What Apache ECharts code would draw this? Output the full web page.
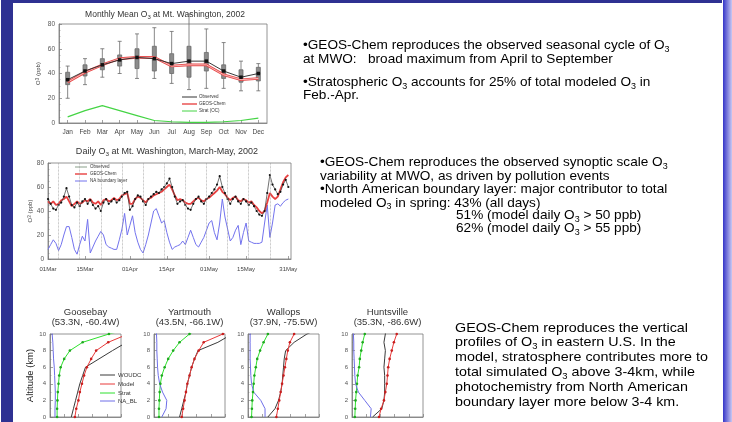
<!DOCTYPE html>
<html><head><meta charset="utf-8">
<script src="https://cdn.jsdelivr.net/npm/echarts@6/dist/echarts.min.js"></script>
<style>html,body{margin:0;padding:0;background:#fff}#c{width:732px;height:422px}</style>
</head><body><div id="c"></div>
<script>
// ---------- Monthly mean chart ----------
const months = ['Jan','Feb','Mar','Apr','May','Jun','Jul','Aug','Sep','Oct','Nov','Dec'];
const monthObs   = [35,42,47,51,53,52,48,50,50,42,37,40];
const monthModel = [33,41,47,52,53,53,46,47,47,39,35,36];
const monthStrat = [5,10,14,10,6,2,1,0.5,0.5,1,2,4];
// [min, q1, median, q3, max]
const monthBox = [
  [20,31,35,41,46],[31,38,42,47,52],[37,43,47,52,60],[40,46,51,55,66],
  [36,44,53,60,72],[36,42,52,62,77],[32,40,48,56,74],[27,37,50,62,88],
  [28,42,50,57,76],[28,36,42,47,65],[26,33,37,43,50],[26,34,40,45,48]
];

// ---------- Daily chart (day 0 = 01 Mar) ----------
const tickDays   = [0,14,31,45,61,75,91];
const tickLabels = ['01Mar','15Mar','01Apr','15Apr','01May','15May','31May'];
const weekDays   = [4,12,20,28,36,44,52,60,68,76,84];
const dailyObs = [50,46,42,41,45,47,52,59,52,45, 43,47,44,48,50,46,49,45,42,44,
  40,47,50,46,48,50,47,49,52,55, 56,41,44,50,53,52,48,45,50,52,
  54,56,55,58,60,63,67,60,52,46, 48,49,45,42,41,46,50,52,48,46,
  50,52,55,58,62,69,60,55,50,46, 50,52,48,46,50,48,45,47,44,40,
  37,36,40,55,70,62,58,54,56,62, 66,60];
const dailyModel = [48,46,48,45,46,49,50,52,48,44, 46,48,46,47,49,48,50,47,46,48,
  45,49,50,48,49,51,49,50,53,54, 55,46,46,50,52,51,49,47,50,51,
  53,54,55,56,58,60,62,58,53,49, 50,49,47,46,46,48,50,51,49,48,
  50,51,53,55,57,60,56,54,51,49, 51,52,49,48,50,49,47,48,45,43,
  40,38,40,47,55,52,50,52,58,64, 68,70];
const dailyNABL = [8,12,16,13,7,12,20,27,27,18, 8,4,12,19,15,33,5,10,15,19,
  23,20,12,10,9,8,8,16,25,38, 20,28,36,22,14,8,5,12,20,30,
  40,42,36,30,32,22,14,8,10,11, 12,15,12,18,24,18,12,10,14,18,
  24,30,32,22,16,30,50,35,25,15, 18,24,28,12,22,30,15,14,13,13,
  13,14,30,45,18,30,45,46,44,47, 49,50];

// ---------- Vertical profiles ----------
const altKm = [0,1,2,3,4,5,6,7,8,9,10,11];
const stations = ['Goosebay','Yartmouth','Wallops','Huntsville'];
const stationCoords = ['(53.3N, -60.4W)','(43.5N, -66.1W)','(37.9N, -75.5W)','(35.3N, -86.6W)'];
const profObs = [
  [30,33,36,39,42,46,50,69,88,108,125,140],
  [36,39,42,45,47,50,53,57,62,90,110,130],
  [28,38,43,46,48,49,50,51,53,65,83,110],
  [29,42,45,46,46,46,45,46,47,45,47,48]];
const profModel = [
  [35,37,40,42,45,48,52,58,65,82,110,130],
  [39,41,43,45,47,50,53,57,63,70,97,120],
  [40,42,44,46,48,50,52,54,56,59,65,70],
  [38,41,45,47,49,50,51,53,56,59,63,67]];
const profStrat = [
  [10,10,10.5,11,12,13,15,20,28,46,83,130],
  [7,7,7.5,8,9,11,15,20,27,36,50,70],
  [5,5.5,6,7,8,9,11,13,17,22,28,34],
  [4,4.5,5,6,7,8,10,11,13,15,18,21]];
const profNABL = [
  [7,7,7.5,7.5,7,6.5,6,5,4.5,4,3,2],
  [11,17,18,12,8,6,5,4.5,4,4,3.5,3],
  [24,24,18,8,5,4,3.5,3,3,3,3,3],
  [26,27,18,9,5,4,3.5,3,2.5,2.5,2,2]];
const profLegend = ['WOUDC','Model','Strat','NA_BL'];

const FF = '"Liberation Sans", Arial, Helvetica, sans-serif';
const AX = '#7a7a7a', LBL = '#555';
const profLeft = [50,154,248,352];
const profColors = ['#3a3a3a','#e83a3a','#2ee02e','#6e6ee8'];

const chart = echarts.init(document.getElementById('c'));

function axisCommon(extra){
  return Object.assign({
    axisLine:{show:true,lineStyle:{color:AX,width:0.8}},
    axisTick:{show:true,inside:true,length:3,lineStyle:{color:AX,width:0.7}},
    axisLabel:{color:LBL,fontSize:6.5,fontFamily:FF,margin:4},
    splitLine:{show:false}
  }, extra);
}

const grids = [
  {left:59, top:24, width:208, height:99},
  {left:48, top:163, width:243, height:96}
];
profLeft.forEach(l=>grids.push({left:l, top:334, width:71, height:83}));
grids.forEach(g=>{g.show=true;g.borderColor=AX;g.borderWidth=0.8;g.containLabel=false;});

const xAxes = [
  axisCommon({type:'category', gridIndex:0, data:months, boundaryGap:true,
    axisTick:{show:true,inside:true,alignWithLabel:true,length:3,lineStyle:{color:AX,width:0.7}},
    axisLabel:{color:'#444',fontSize:6.5,fontFamily:FF,margin:6}}),
  axisCommon({type:'value', gridIndex:1, min:0, max:92,
    axisTick:{show:true,inside:true,length:3,customValues:tickDays,lineStyle:{color:AX,width:0.7}},
    axisLabel:{color:'#444',fontSize:6,fontFamily:FF,margin:7,customValues:tickDays,
      formatter:v=>tickLabels[tickDays.indexOf(v)] || ''}})
];
const yAxes = [
  axisCommon({type:'value', gridIndex:0, min:0, max:80, interval:20,
    minorTick:{show:true,splitNumber:4,length:1.5,lineStyle:{color:AX,width:0.5}},
    name:'O{s|3} (ppb)', nameLocation:'middle', nameGap:18,
    nameTextStyle:{color:'#444',fontSize:6,fontFamily:FF,rich:{s:{fontSize:4.5,fontFamily:FF,color:'#444'}}}}),
  axisCommon({type:'value', gridIndex:1, min:0, max:80, interval:20,
    minorTick:{show:true,splitNumber:4,length:1.5,lineStyle:{color:AX,width:0.5}},
    name:'O{s|3} (ppb)', nameLocation:'middle', nameGap:15,
    nameTextStyle:{color:'#444',fontSize:6,fontFamily:FF,rich:{s:{fontSize:4.5,fontFamily:FF,color:'#444'}}}})
];
profLeft.forEach((l,i)=>{
  xAxes.push(axisCommon({type:'value', gridIndex:i+2, min:0, max:100, interval:20,
    axisLabel:{show:false}}));
  yAxes.push(axisCommon({type:'value', gridIndex:i+2, min:0, max:10, interval:2,
    minorTick:{show:true,splitNumber:2,length:1.5,lineStyle:{color:AX,width:0.5}},
    axisLabel:{color:LBL,fontSize:6,fontFamily:FF,margin:4},
    name: i===0 ? 'Altitude (km)' : '', nameLocation:'middle', nameGap:14,
    nameTextStyle:{color:'#222',fontSize:9.5,fontFamily:FF}}));
});

const series = [
  {type:'boxplot', xAxisIndex:0, yAxisIndex:0, data:monthBox, boxWidth:[4,4],
    itemStyle:{color:'#8c8c8c', borderColor:'#6a6a6a', borderWidth:0.8}, silent:true},
  {type:'line', name:'Observed', xAxisIndex:0, yAxisIndex:0, data:monthObs,
    lineStyle:{color:'#222',width:0.9}, itemStyle:{color:'#111'}, symbol:'rect', symbolSize:3.5, z:5},
  {type:'line', name:'GEOS-Chem', xAxisIndex:0, yAxisIndex:0, data:monthModel,
    lineStyle:{color:'#e84848',width:2.6}, symbol:'none', z:4},
  {type:'line', xAxisIndex:0, yAxisIndex:0, data:monthModel,
    lineStyle:{color:'#f7c4c4',width:0.9}, symbol:'none', z:4},
  {type:'line', name:'Strat (OC)', xAxisIndex:0, yAxisIndex:0, data:monthStrat,
    lineStyle:{color:'#44d444',width:1.2}, symbol:'none'},
  {type:'line', name:'NA boundary layer', xAxisIndex:1, yAxisIndex:1,
    data:dailyNABL.map((v,i)=>[i,v]), lineStyle:{color:'#7373ee',width:1}, symbol:'none',
    markLine:{silent:true, symbol:['none','none'], label:{show:false},
      lineStyle:{type:'dotted',color:'#9a9a9a',width:0.7},
      data:weekDays.map(d=>({xAxis:d}))}},
  {type:'line', name:'GEOS-Chem ', xAxisIndex:1, yAxisIndex:1,
    data:dailyModel.map((v,i)=>[i,v]), lineStyle:{color:'#e84040',width:1.8}, symbol:'none'},
  {type:'line', name:'Observed ', xAxisIndex:1, yAxisIndex:1,
    data:dailyObs.map((v,i)=>[i,v]), lineStyle:{color:'#333',width:0.7},
    symbol:'circle', symbolSize:2.2, itemStyle:{color:'#111'}}
];
const profSets = [profObs, profModel, profStrat, profNABL];
stations.forEach((s,i)=>{
  profSets.forEach((set,k)=>{
    series.push({type:'line', name:s+' '+profLegend[k], xAxisIndex:i+2, yAxisIndex:i+2,
      data:set[i].map((v,j)=>[v,altKm[j]]),
      lineStyle:{color:profColors[k],width:1},
      symbol:(k===1||k===2)?'circle':'none', symbolSize:2.6,
      itemStyle:{color:k===1?'#c81e1e':'#1fa81f'}});
  });
});

// ---------- Slide decoration and texts ----------
function para(x,y,text,lh,size,sx){
  return {type:'text', x:x, y:y, scaleX:sx, silent:true,
    style:{text:text, fontSize:size, fontFamily:FF, fill:'#000', lineHeight:lh,
      rich:{s:{fontSize:size*0.66,fontFamily:FF,fill:'#000',verticalAlign:'middle',
        lineHeight:lh,padding:[8,0,0,0]}}}};
}
function smallText(x,y,text,size,align,sx){
  return {type:'text', x:x, y:y, scaleX:sx||1, silent:true,
    style:{text:text, fontSize:size, fontFamily:FF, fill:'#333', align:align||'center', verticalAlign:'middle',
      rich:{s:{fontSize:size*0.7,fontFamily:FF,fill:'#333',verticalAlign:'bottom',lineHeight:size+3}}}};
}
function legLine(x1,x2,y,color,w){
  return {type:'line', silent:true, shape:{x1:x1,y1:y,x2:x2,y2:y}, style:{stroke:color,lineWidth:w||1}};
}
const graphics = [
  {type:'rect', shape:{x:1,y:0,width:12,height:422}, style:{fill:'#2e3192'}, silent:true},
  {type:'rect', shape:{x:13,y:0,width:709,height:3}, style:{fill:'#2e3192'}, silent:true},
  {type:'rect', shape:{x:723,y:0,width:9,height:422}, silent:true,
    style:{fill:new echarts.graphic.LinearGradient(0,0,1,0,[{offset:0,color:'#3434c8'},{offset:1,color:'#c8c8f2'}])}},
  smallText(165,15,'Monthly Mean O{s|3} at Mt. Washington, 2002',8.5),
  smallText(167,152,'Daily O{s|3} at Mt. Washington, March-May, 2002',8.5,'center',1.06),
  legLine(182,197,97,'#333'), legLine(182,197,104,'#e84848',1.4), legLine(182,197,111,'#44d444'),
  smallText(199,97,'Observed',4.5,'left'), smallText(199,104,'GEOS-Chem',4.5,'left'), smallText(199,111,'Strat (OC)',4.5,'left'),
  legLine(75,87,167,'#8aa08a'), legLine(75,87,174,'#e84040',1.4), legLine(75,87,181,'#7373ee'),
  smallText(90,167,'Observed',4.5,'left'), smallText(90,174,'GEOS-Chem',4.5,'left'), smallText(90,181,'NA boundary layer',4.5,'left'),
  legLine(100,115,375,profColors[0]), legLine(100,115,384,profColors[1]), legLine(100,115,393,profColors[2]), legLine(100,115,401,profColors[3]),
  smallText(118,375,'WOUDC',6,'left'), smallText(118,384,'Model',6,'left'), smallText(118,393,'Strat',6,'left'), smallText(118,401,'NA_BL',6,'left'),
  para(303,39.3,'•GEOS-Chem reproduces the observed seasonal cycle of O{s|3}\nat MWO:   broad maximum from April to September',13.3,12.6,1.08),
  para(303,76.3,'•Stratospheric O{s|3} accounts for 25% of total modeled O{s|3} in\nFeb.-Apr.',13,12.6,1.08),
  para(320,156.3,'•GEOS-Chem reproduces the observed synoptic scale O{s|3}\nvariability at MWO, as driven by pollution events\n•North American boundary layer: major contributor to total\nmodeled O{s|3} in spring: 43% (all days)',13.4,12.6,1.08),
  para(456,209.7,'51% (model daily O{s|3} > 50 ppb)\n62% (model daily O{s|3} > 55 ppb)',12.5,12.6,1.08),
  para(455,320.6,'GEOS-Chem reproduces the vertical\nprofiles of O{s|3} in eastern U.S. In the\nmodel, stratosphere contributes more to\ntotal simulated O{s|3} above 3-4km, while\nphotochemistry from North American\nboundary layer more below 3-4 km.',14.8,13.2,1.085)
];
stations.forEach((s,i)=>{
  const cx = profLeft[i]+35.5;
  graphics.push(smallText(cx,313,s,8.5,'center',1.12));
  graphics.push(smallText(cx,323,stationCoords[i],8.5,'center',1.12));
});

chart.setOption({
  animation:false,
  backgroundColor:'#fff',
  grid:grids, xAxis:xAxes, yAxis:yAxes, series:series, graphic:graphics
});
</script></body></html>
